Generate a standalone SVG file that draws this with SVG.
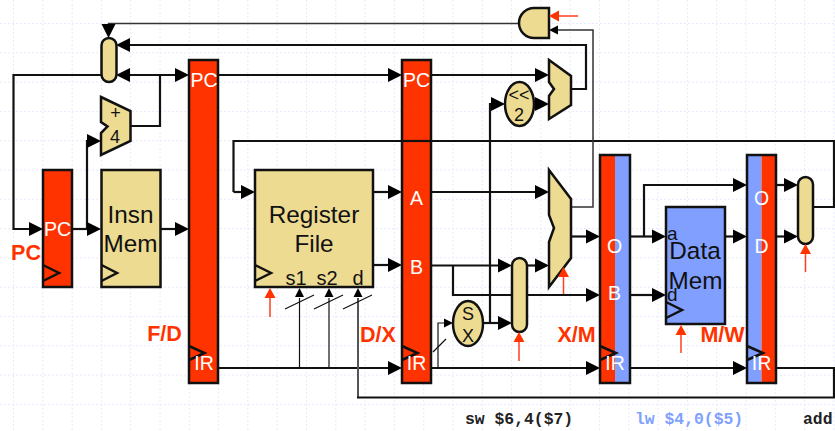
<svg xmlns="http://www.w3.org/2000/svg" width="835" height="431" viewBox="0 0 835 431">
<style>
text{font-family:"Liberation Sans",Arial,sans-serif}
.n{fill:#eddb92;stroke:#111;stroke-width:2.5}
.r{fill:#ff3300}
.b{fill:#809fff}
.o{fill:none;stroke:#111;stroke-width:2.2}
.t{fill:none;stroke:#111;stroke-width:1.2}
.m{fill:none;stroke:#333;stroke-width:1.5}
.g{fill:none;stroke:#555;stroke-width:2}
.h{fill:#000}
.ck{fill:none;stroke:#111;stroke-width:2.5}
.ra{stroke:#ff4020;stroke-width:1.5;fill:none}
.rh{fill:#ff3300}
.lw{fill:#fff;font-size:19.5px;text-anchor:middle}
.lb{fill:#111;font-size:24.3px;text-anchor:middle}
.lm{fill:#111;font-size:20px;text-anchor:middle}
.ls{fill:#111;font-size:18px;text-anchor:middle}
.st{fill:#ff3300;font-size:21.5px;font-weight:bold;text-anchor:middle}
.code{font-family:"Liberation Mono","Courier New",monospace;font-size:16.4px;font-weight:bold}
.grid{stroke:#e8eafd;stroke-width:1;stroke-dasharray:2 2;fill:none}
</style>
<defs>
<path id="ah" class="h" d="M-14,-7 L0,0 L-14,7 Z"/>
<path id="ahs" class="h" d="M-9,-4.500 L0,0 L-9,4.500 Z"/>
<path id="rh" class="rh" d="M-10,-5.500 L0,0 L-10,5.500 Z"/>
</defs>
<rect width="835" height="431" fill="#fff"/>
<path class="grid" d="M13.500,0V431M42.800,0V431M72.100,0V431M101.400,0V431M130.700,0V431M160,0V431M189.300,0V431M218.600,0V431M247.900,0V431M277.200,0V431M306.500,0V431M335.800,0V431M365.100,0V431M394.400,0V431M423.700,0V431M453,0V431M482.300,0V431M511.600,0V431M540.900,0V431M570.200,0V431M599.500,0V431M628.800,0V431M658.100,0V431M687.400,0V431M716.700,0V431M746,0V431M775.300,0V431M804.600,0V431M833.900,0V431M0,23.500H835M0,52.800H835M0,82.100H835M0,111.400H835M0,140.700H835M0,170H835M0,199.300H835M0,228.600H835M0,257.900H835M0,287.200H835M0,316.500H835M0,345.800H835M0,375.100H835M0,404.400H835"/>
<g id="connectors">
<path class="o" d="M101,75H13.500V229H30"/><path class="o" d="M72,229H88"/><path class="o" d="M87,229V141H88"/>
<path class="o" d="M130,126H160V75"/><path class="o" d="M129,75H176"/>
<path class="o" d="M160,229H176"/>
<path class="m" d="M108.500,25V23.500H519"/>
<path class="o" d="M129,45H586V89H571"/>
<path class="o" d="M218,75H389"/><path class="o" d="M431,75H536"/>
<path class="o" d="M233.500,192V141H835"/><path class="o" d="M233.500,192H242"/>
<path class="o" d="M834,141V207H813"/>
<path class="o" d="M373,192H389"/><path class="o" d="M373,265H389"/>
<path class="o" d="M431,192H536"/><path class="o" d="M431,265.500H499"/><path class="o" d="M527,265.500H536"/>
<path class="o" d="M453,265.500V295H587"/>
<path class="o" d="M483,323H499"/><path class="o" d="M490,323V104H492"/>
<path class="o" d="M534,104H536"/>
<path class="m" d="M571,207H593V30H558"/>
<path class="o" d="M218,368H389"/><path class="o" d="M431,368H587"/>
<path class="t" d="M438,368V323H444"/><path class="t" d="M433,352L446,339"/>
<path class="t" d="M299.500,368V298"/><path class="t" d="M329,368V298"/>
<path class="g" d="M358,298V397.500"/><path class="o" d="M357,397.500H834V368H776"/>
<path class="t" d="M285,309L314,295M314,309L343,295M343,309L372,295"/>
<path class="o" d="M571,236.500H587"/>
<path class="o" d="M630,236.500H653"/><path class="o" d="M644,236.500V185H734"/>
<path class="o" d="M630,295H653"/><path class="o" d="M725,236.500H734"/>
<path class="o" d="M630,368H734"/>
<path class="o" d="M776,185H785"/><path class="o" d="M776,236.500H785"/>
<use href="#ah" x="43" y="229"/><use href="#ah" x="101" y="229"/><use href="#ah" x="101" y="141"/>
<use href="#ah" x="189" y="75"/><use href="#ah" x="189" y="229"/>
<use href="#ah" transform="translate(116,75) scale(-1,1)"/><use href="#ah" transform="translate(116,45) scale(-1,1)"/>
<use href="#ah" transform="translate(108.500,38) rotate(90)"/>
<use href="#ah" x="255" y="192"/>
<use href="#ah" x="402" y="75"/><use href="#ah" x="402" y="192"/><use href="#ah" x="402" y="265"/><use href="#ah" x="402" y="368"/>
<use href="#ah" x="549" y="75"/><use href="#ah" x="549" y="104"/><use href="#ah" x="505" y="104"/><use href="#ah" x="549" y="192"/>
<use href="#ah" x="512" y="265.500"/><use href="#ah" x="549" y="265.500"/><use href="#ah" x="512" y="323"/>
<use href="#ah" x="600" y="236.500"/><use href="#ah" x="600" y="295"/><use href="#ah" x="600" y="368"/>
<use href="#ah" x="666" y="236.500"/><use href="#ah" x="666" y="295"/>
<use href="#ah" x="747" y="185"/><use href="#ah" x="747" y="236.500"/><use href="#ah" x="747" y="368"/>
<use href="#ah" x="798" y="185"/><use href="#ah" x="798" y="236.500"/>
<use href="#ahs" transform="translate(549,30) scale(-1,1)"/>
<use href="#ahs" x="453" y="323"/>
<use href="#ahs" transform="translate(299.500,288) rotate(-90)"/><use href="#ahs" transform="translate(329,288) rotate(-90)"/><use href="#ahs" transform="translate(358,288) rotate(-90)"/>
</g>
<g id="pc-reg"><rect class="r" x="43" y="170" width="29" height="117" stroke="#111" stroke-width="2.500"/><path class="ck" d="M43,265L59,273L43,281"/><text class="lw" x="57.500" y="236">PC</text></g>
<g id="insn-mem"><rect class="n" x="101.500" y="170" width="59" height="117"/><path class="ck" d="M101.500,265L117,273L101.500,281"/><text class="lb" x="130.500" y="223">Insn</text><text class="lb" x="130.500" y="252">Mem</text></g>
<g id="mux-pc"><rect class="n" x="101.500" y="38" width="15" height="44" rx="7.500"/></g>
<g id="adder"><path class="n" d="M101,97L130.500,111V141L101,155V133L107.500,126.500L101,122Z"/><text class="ls" x="115.500" y="119">+</text><text class="ls" x="115" y="143">4</text></g>
<g id="fd-reg"><rect class="r" x="189" y="60" width="29" height="323" stroke="#111" stroke-width="2.500"/><path class="ck" d="M189,346L204.500,353L189,360"/><text class="lw" x="204" y="87">PC</text><text class="lw" x="204" y="370">IR</text></g>
<g id="register-file"><rect class="n" x="255" y="170" width="118" height="117"/><path class="ck" d="M255,265L271,273L255,281"/><text class="lb" x="314" y="223">Register</text><text class="lb" x="314" y="252">File</text><text class="lm" x="296" y="285">s1</text><text class="lm" x="327" y="285">s2</text><text class="lm" x="358" y="285">d</text></g>
<g id="dx-reg"><rect class="r" x="402" y="60" width="29" height="323" stroke="#111" stroke-width="2.500"/><path class="ck" d="M402,346L417.500,353L402,360"/><text class="lw" x="416.500" y="87">PC</text><text class="lw" x="416.500" y="205">A</text><text class="lw" x="416.500" y="274">B</text><text class="lw" x="416.500" y="370">IR</text><path class="o" d="M402,141H431"/></g>
<g id="and-gate"><path class="n" d="M549,8V38H534A15,15 0 0 1 534,8Z"/></g>
<g id="shift"><ellipse class="n" cx="519.500" cy="104" rx="14.500" ry="22"/><text class="ls" x="519" y="101">&lt;&lt;</text><text class="ls" x="519" y="121">2</text></g>
<g id="branch-mux"><path class="n" d="M549,60L571,76V105L549,119V96L554,89L549,82Z"/></g>
<g id="alu"><path class="n" d="M549,170L571,199V258L549,287V242L554,228L549,215Z"/></g>
<g id="sx"><ellipse class="n" cx="468" cy="323.500" rx="15" ry="22.500"/><text class="ls" x="468" y="320">S</text><text class="ls" x="468" y="342">X</text></g>
<g id="mux-b"><rect class="n" x="512" y="258" width="15" height="74" rx="7.500"/></g>
<g id="xm-reg"><rect class="r" x="600" y="155" width="15" height="228"/><rect class="b" x="615" y="155" width="15" height="228"/><rect x="600" y="155" width="30" height="228" fill="none" stroke="#111" stroke-width="2.500"/><path class="ck" d="M600,346L616,353L600,360"/><text class="lw" x="614.500" y="253">O</text><text class="lw" x="614.500" y="300">B</text><text class="lw" x="615" y="370">IR</text></g>
<g id="data-mem"><rect class="b" x="666" y="207" width="59" height="117" stroke="#111" stroke-width="2.500"/><path class="ck" d="M666,302L682,310L666,318"/><text class="lb" x="695" y="259">Data</text><text class="lb" x="695.500" y="289">Mem</text><text fill="#111" font-size="19" x="667" y="240">a</text><text fill="#111" font-size="19" x="667" y="301">d</text></g>
<g id="mw-reg"><rect class="b" x="747" y="155" width="14.500" height="228"/><rect class="r" x="761.500" y="155" width="14.500" height="228"/><rect x="747" y="155" width="29" height="228" fill="none" stroke="#111" stroke-width="2.500"/><path class="ck" d="M747,346L763,353L747,360"/><text class="lw" x="761.500" y="205">O</text><text class="lw" x="761.500" y="253">D</text><text class="lw" x="761.500" y="370">IR</text></g>
<g id="mux-wb"><rect class="n" x="798" y="177" width="15" height="67" rx="7.500"/></g>
<g id="control">
<path class="ra" d="M578,16H555M270,317V296M519,361V340M563.500,294V275M681,353V333M805.500,272V252"/>
<use href="#rh" transform="translate(549,16) scale(-1,1)"/>
<use href="#rh" transform="translate(270,288) rotate(-90)"/><use href="#rh" transform="translate(519,332) rotate(-90)"/><use href="#rh" transform="translate(563.500,267) rotate(-90)"/><use href="#rh" transform="translate(681,325) rotate(-90)"/><use href="#rh" transform="translate(805.500,244) rotate(-90)"/>
</g>
<g id="labels">
<text class="st" x="26" y="260">PC</text><text class="st" x="164.500" y="341">F/D</text><text class="st" x="378" y="342">D/X</text><text class="st" x="576.500" y="342">X/M</text><text class="st" x="722.500" y="342">M/W</text>
<text class="code" x="465" y="424" fill="#222">sw $6,4($7)</text><text class="code" x="635" y="424" fill="#80a0ff">lw $4,0($5)</text><text class="code" x="803" y="424" fill="#222">add</text>
</g>
</svg>
